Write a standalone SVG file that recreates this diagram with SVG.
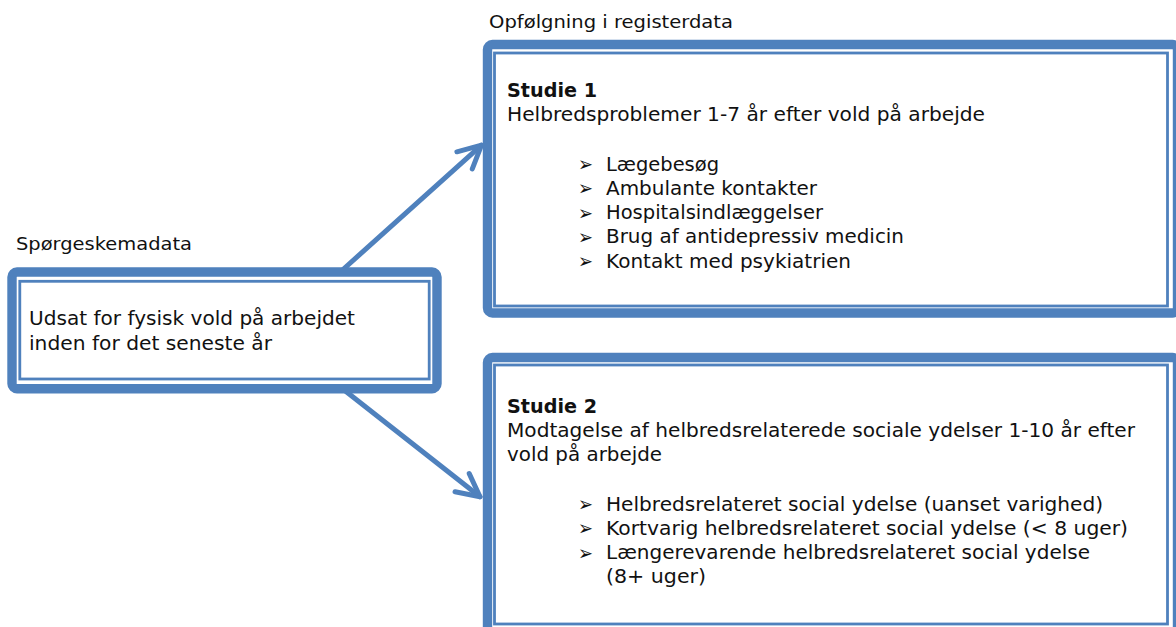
<svg xmlns="http://www.w3.org/2000/svg" width="1176" height="627" viewBox="0 0 1176 627">
<style>
.outer{fill:#fff;stroke:#4F81BD;stroke-width:9.4;}
.inner{fill:none;stroke:#4F81BD;stroke-width:2.8;}
.t{font-family:"DejaVu Sans","Verdana",sans-serif;font-size:19.5px;fill:#111;}
.lbl{font-family:"DejaVu Sans","Verdana",sans-serif;font-size:18.5px;fill:#111;}
.b{font-weight:bold;}
.bul{font-family:"DejaVu Sans",sans-serif;font-size:20px;fill:#111;}
.conn{stroke:#4F81BD;stroke-width:5;fill:none;stroke-linecap:round;stroke-linejoin:round;}
</style>
<defs>
<marker id="chev" markerUnits="userSpaceOnUse" orient="auto" markerWidth="40" markerHeight="40" refX="0" refY="0" overflow="visible">
<path d="M-22.7,-11.5 L0,0 L-22.7,11.5" fill="none" stroke="#4F81BD" stroke-width="5" stroke-linecap="round" stroke-linejoin="round"/>
</marker>
</defs>
<g id="connectors">
<line class="conn" x1="338" y1="274" x2="481.5" y2="145.2" marker-end="url(#chev)"/>
<line class="conn" x1="339" y1="386" x2="480" y2="496.7" marker-end="url(#chev)"/>
</g>
<g id="label-spoerg">
<text class="lbl" x="16" y="250" textLength="176" lengthAdjust="spacingAndGlyphs">Spørgeskemadata</text>
</g>
<g id="label-opf">
<text class="lbl" x="489" y="28" textLength="244" lengthAdjust="spacingAndGlyphs">Opfølgning i registerdata</text>
</g>
<g id="node-exposure">
<rect class="outer" x="12" y="272" width="425" height="116.7" rx="5"/>
<rect class="inner" x="19.8" y="281.3" width="409.4" height="97.7"/>
<text class="t" x="29" y="325.3" textLength="326" lengthAdjust="spacingAndGlyphs">Udsat for fysisk vold på arbejdet</text>
<text class="t" x="29" y="350" textLength="243" lengthAdjust="spacingAndGlyphs">inden for det seneste år</text>
</g>
<g id="node-studie1">
<rect class="outer" x="487.5" y="44.5" width="690" height="268.5" rx="5"/>
<rect class="inner" x="494.5" y="53" width="673" height="253"/>
<text class="t b" x="507" y="96.7" textLength="90" lengthAdjust="spacingAndGlyphs">Studie 1</text>
<text class="t" x="507" y="121" textLength="478" lengthAdjust="spacingAndGlyphs">Helbredsproblemer 1-7 år efter vold på arbejde</text>
<text class="bul" x="578" y="171" textLength="15" lengthAdjust="spacingAndGlyphs">➢</text>
<text class="t" x="606" y="170.5" textLength="113" lengthAdjust="spacingAndGlyphs">Lægebesøg</text>
<text class="bul" x="578" y="195.3" textLength="15" lengthAdjust="spacingAndGlyphs">➢</text>
<text class="t" x="606" y="194.8" textLength="211" lengthAdjust="spacingAndGlyphs">Ambulante kontakter</text>
<text class="bul" x="578" y="219.5" textLength="15" lengthAdjust="spacingAndGlyphs">➢</text>
<text class="t" x="606" y="219" textLength="217" lengthAdjust="spacingAndGlyphs">Hospitalsindlæggelser</text>
<text class="bul" x="578" y="243.8" textLength="15" lengthAdjust="spacingAndGlyphs">➢</text>
<text class="t" x="606" y="243.3" textLength="298" lengthAdjust="spacingAndGlyphs">Brug af antidepressiv medicin</text>
<text class="bul" x="578" y="268" textLength="15" lengthAdjust="spacingAndGlyphs">➢</text>
<text class="t" x="606" y="267.5" textLength="245" lengthAdjust="spacingAndGlyphs">Kontakt med psykiatrien</text>
</g>
<g id="node-studie2">
<rect class="outer" x="487.5" y="357.5" width="690" height="280" rx="5"/>
<rect class="inner" x="494.5" y="365" width="673" height="259"/>
<text class="t b" x="507" y="412.7" textLength="90" lengthAdjust="spacingAndGlyphs">Studie 2</text>
<text class="t" x="507" y="436.7" textLength="628" lengthAdjust="spacingAndGlyphs">Modtagelse af helbredsrelaterede sociale ydelser 1-10 år efter</text>
<text class="t" x="507" y="461" textLength="155" lengthAdjust="spacingAndGlyphs">vold på arbejde</text>
<text class="bul" x="578" y="511" textLength="15" lengthAdjust="spacingAndGlyphs">➢</text>
<text class="t" x="606" y="510.5" textLength="497" lengthAdjust="spacingAndGlyphs">Helbredsrelateret social ydelse (uanset varighed)</text>
<text class="bul" x="578" y="535.3" textLength="15" lengthAdjust="spacingAndGlyphs">➢</text>
<text class="t" x="606" y="534.8" textLength="522" lengthAdjust="spacingAndGlyphs">Kortvarig helbredsrelateret social ydelse (&lt; 8 uger)</text>
<text class="bul" x="578" y="559.5" textLength="15" lengthAdjust="spacingAndGlyphs">➢</text>
<text class="t" x="606" y="559" textLength="484" lengthAdjust="spacingAndGlyphs">Længerevarende helbredsrelateret social ydelse</text>
<text class="t" x="606" y="583.3" textLength="100" lengthAdjust="spacingAndGlyphs">(8+ uger)</text>
</g>
</svg>
